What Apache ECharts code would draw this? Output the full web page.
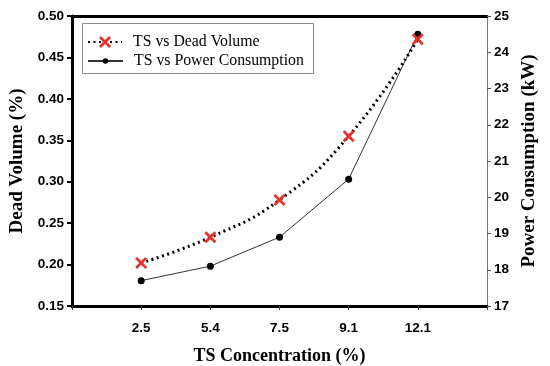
<!DOCTYPE html>
<html><head><meta charset="utf-8">
<script src="https://cdn.jsdelivr.net/npm/echarts@6/dist/echarts.min.js"></script>
<style>html,body{margin:0;padding:0;background:#fff}#c{width:550px;height:366px}</style>
</head><body><div id="c"></div>
<script>
const categories = ['', '2.5', '5.4', '7.5', '9.1', '12.1', ''];
const deadVolume = [null, 0.202, 0.233, 0.278, 0.355, 0.472, null];
const powerConsumption = [null, 17.7, 18.1, 18.9, 20.5, 24.5, null];
const seriesNames = ['TS vs Dead Volume', 'TS vs Power Consumption'];

const xMark = 'path://M0,1.6 L1.6,0 L5,3.4 L8.4,0 L10,1.6 L6.6,5 L10,8.4 L8.4,10 L5,6.6 L1.6,10 L0,8.4 L3.4,5 Z';
const tickFont = {fontFamily: 'Liberation Sans', fontWeight: 'bold', fontSize: 13.5, color: '#000'};
const nameFont = (s) => ({fontFamily: 'Liberation Serif', fontWeight: 'bold', fontSize: s, color: '#000'});
const legendText = {fontFamily: 'Liberation Serif', fontSize: 15.8, color: '#000', padding: [0, 0, 0, 6], lineHeight: 18};

const chart = echarts.init(document.getElementById('c'));
chart.setOption({
  animation: false,
  grid: {left: 72, right: 63, top: 16, bottom: 60, containLabel: false, outerBoundsMode: 'none'},
  graphic: [{
    type: 'rect', left: 82, top: 23, z: 5,
    shape: {width: 231, height: 50},
    style: {fill: '#fff', stroke: '#8a8a8a', lineWidth: 1}
  }],
  legend: [{
    left: 87, top: 33, padding: 0, itemWidth: 34, itemHeight: 15, z: 10,
    textStyle: legendText, data: [seriesNames[0]]
  }, {
    left: 87, top: 52, padding: 0, itemWidth: 35, itemHeight: 7, z: 10,
    textStyle: legendText, data: [seriesNames[1]]
  }],
  xAxis: [{
    type: 'category', data: categories, boundaryGap: false,
    axisLine: {lineStyle: {color: '#000', width: 3}},
    axisTick: {show: true, length: 4, alignWithLabel: true, lineStyle: {color: '#444', width: 1}, interval: 0},
    axisLabel: Object.assign({margin: 15, interval: 0}, tickFont),
    name: 'TS Concentration (%)', nameLocation: 'middle', nameGap: 41, nameTextStyle: nameFont(18)
  }, {
    type: 'category', data: categories, boundaryGap: false, position: 'top',
    axisLine: {lineStyle: {color: '#000', width: 3}},
    axisTick: {show: false}, axisLabel: {show: false}
  }],
  yAxis: [{
    type: 'value', min: 0.15, max: 0.5, interval: 0.05,
    splitLine: {show: false},
    axisLine: {show: true, lineStyle: {color: '#000', width: 3}},
    axisTick: {show: true, length: 5, lineStyle: {color: '#000', width: 2}},
    axisLabel: Object.assign({margin: 8, formatter: v => v.toFixed(2)}, tickFont),
    name: 'Dead Volume (%)', nameLocation: 'middle', nameGap: 43, nameTextStyle: nameFont(19)
  }, {
    type: 'value', min: 17, max: 25, interval: 1, position: 'right',
    splitLine: {show: false},
    axisLine: {show: true, lineStyle: {color: '#777', width: 1}},
    axisTick: {show: true, length: 4, lineStyle: {color: '#555', width: 1}},
    axisLabel: Object.assign({margin: 7}, tickFont),
    name: 'Power Consumption (kW)', nameLocation: 'middle', nameGap: 32, nameTextStyle: nameFont(19)
  }],
  series: [{
    name: seriesNames[1], type: 'line', yAxisIndex: 1, data: powerConsumption,
    symbol: 'circle', symbolSize: 7,
    itemStyle: {color: '#000'},
    lineStyle: {color: '#333', width: 1}
  }, {
    name: seriesNames[0], type: 'line', yAxisIndex: 0, data: deadVolume,
    smooth: true, symbol: xMark, symbolSize: 12,
    itemStyle: {color: '#e8302a'},
    lineStyle: {color: '#000', width: 3, type: [2, 3.5]}
  }]
});
</script></body></html>
